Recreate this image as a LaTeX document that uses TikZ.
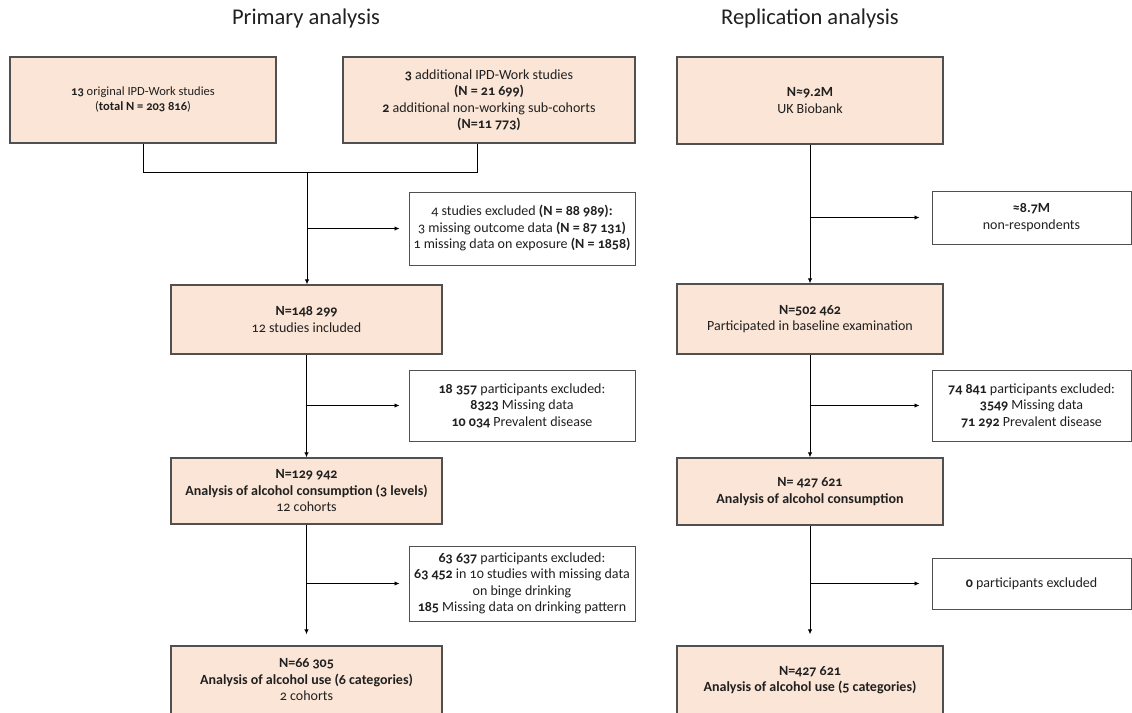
\documentclass[tikz,border=0pt]{standalone}
\usepackage{fontspec}
\setmainfont{Carlito}[Numbers=OldStyle]
\usetikzlibrary{arrows.meta,calc}
\definecolor{peach}{HTML}{FBE5D6}
\definecolor{bordergray}{HTML}{505050}
\definecolor{txt}{HTML}{202020}
\begin{document}
\begin{tikzpicture}[x=1pt,y=-1pt,
  pbox/.style={draw=bordergray,line width=1.4pt,fill=peach,align=center,inner sep=2pt,text=txt,font=\fontsize{14}{16.5}\selectfont},
  wbox/.style={draw=bordergray,line width=1pt,fill=white,align=center,inner sep=2pt,text=txt,font=\fontsize{14}{16.5}\selectfont},
  conn/.style={draw=black,line width=0.9pt},
  arr/.style={conn,-{Latex[length=5pt,width=4.5pt]}},
  title/.style={text=txt,font=\fontsize{22.5}{27}\selectfont}]
\useasboundingbox (0,0) rectangle (1132,712);
% titles
\node[title] (t1) at (306,19) {Primary analysis};
\node[title] (t2) at (810,19) {Replication analysis};
% primary analysis
\node[pbox,minimum width=266pt,minimum height=86pt,font=\fontsize{12.5}{15}\selectfont] (b1) at (143,100)
  {\textbf{13} original IPD-Work studies\\(\textbf{total N = 203 816})};
\node[pbox,minimum width=292pt,minimum height=86pt] (b2) at (489,100)
  {\textbf{3} additional IPD-Work studies\\\textbf{(N = 21 699)}\\\textbf{2} additional non-working sub-cohorts\\\textbf{(N=11 773)}};
\node[wbox,minimum width=226pt,minimum height=73pt] (e1) at (522,228.5)
  {4 studies excluded \textbf{(N = 88 989):}\\3 missing outcome data \textbf{(N = 87 131)}\\1 missing data on exposure \textbf{(N = 1858)}};
\node[pbox,minimum width=271pt,minimum height=69pt] (b3) at (306.5,319.5)
  {\textbf{N=148 299}\\12 studies included};
\node[wbox,minimum width=226pt,minimum height=71pt] (e2) at (522,405.5)
  {\textbf{18 357} participants excluded:\\\textbf{8323} Missing data\\\textbf{10 034} Prevalent disease};
\node[pbox,minimum width=271pt,minimum height=66pt] (b4) at (306.5,491)
  {\textbf{N=129 942}\\\textbf{Analysis of alcohol consumption (3 levels)}\\12 cohorts};
\node[wbox,minimum width=226pt,minimum height=75pt] (e3) at (522,583.5)
  {\textbf{63 637} participants excluded:\\\textbf{63 452} in 10 studies with missing data\\on binge drinking\\\textbf{185} Missing data on drinking pattern};
\node[pbox,minimum width=271pt,minimum height=68pt] (b5) at (306.5,680)
  {\textbf{N=66 305}\\\textbf{Analysis of alcohol use (6 categories)}\\2 cohorts};
% replication analysis
\node[pbox,minimum width=266pt,minimum height=87pt] (r1) at (810,100.5)
  {\textbf{N≈9.2M}\\UK Biobank};
\node[wbox,minimum width=199pt,minimum height=53pt] (q1) at (1031.5,217.5)
  {\textbf{≈8.7M}\\non-respondents};
\node[pbox,minimum width=266pt,minimum height=70pt] (r2) at (810,319)
  {\textbf{N=502 462}\\Participated in baseline examination};
\node[wbox,minimum width=199pt,minimum height=71pt] (q2) at (1031.5,405.5)
  {\textbf{74 841} participants excluded:\\\textbf{3549} Missing data\\\textbf{71 292} Prevalent disease};
\node[pbox,minimum width=266pt,minimum height=67pt] (r3) at (810,491.5)
  {\textbf{N= 427 621}\\\textbf{Analysis of alcohol consumption}};
\node[wbox,minimum width=199pt,minimum height=51pt] (q3) at (1031.5,583.5)
  {\textbf{0} participants excluded};
\node[pbox,minimum width=266pt,minimum height=68pt] (r4) at (810,680)
  {\textbf{N=427 621}\\\textbf{Analysis of alcohol use (5 categories)}};
% connectors primary
\coordinate (m1) at (143,172);
\coordinate (m2) at (477,172);
\coordinate (m) at (307,172);
\draw[conn] (b1.south) -- (m1) -- (m2) -- (m2 |- b2.south);
\draw[arr] (m) -- (m |- b3.north);
\draw[arr,shorten >=9pt] (m |- e1.west) -- (e1.west);
\draw[arr] (b3.south) -- (b4.north);
\draw[arr,shorten >=9pt] (b3.south |- e2.west) -- (e2.west);
\draw[arr,shorten >=11pt] (b4.south) -- (b5.north);
\draw[arr,shorten >=9pt] (b4.south |- e3.west) -- (e3.west);
% connectors replication
\draw[arr] (r1.south) -- (r2.north);
\draw[arr,shorten >=12pt] (r1.south |- q1.west) -- (q1.west);
\draw[arr] (r2.south) -- (r3.north);
\draw[arr,shorten >=12pt] (r2.south |- q2.west) -- (q2.west);
\draw[arr,shorten >=11pt] (r3.south) -- (r4.north);
\draw[arr,shorten >=12pt] (r3.south |- q3.west) -- (q3.west);
\end{tikzpicture}
\end{document}
